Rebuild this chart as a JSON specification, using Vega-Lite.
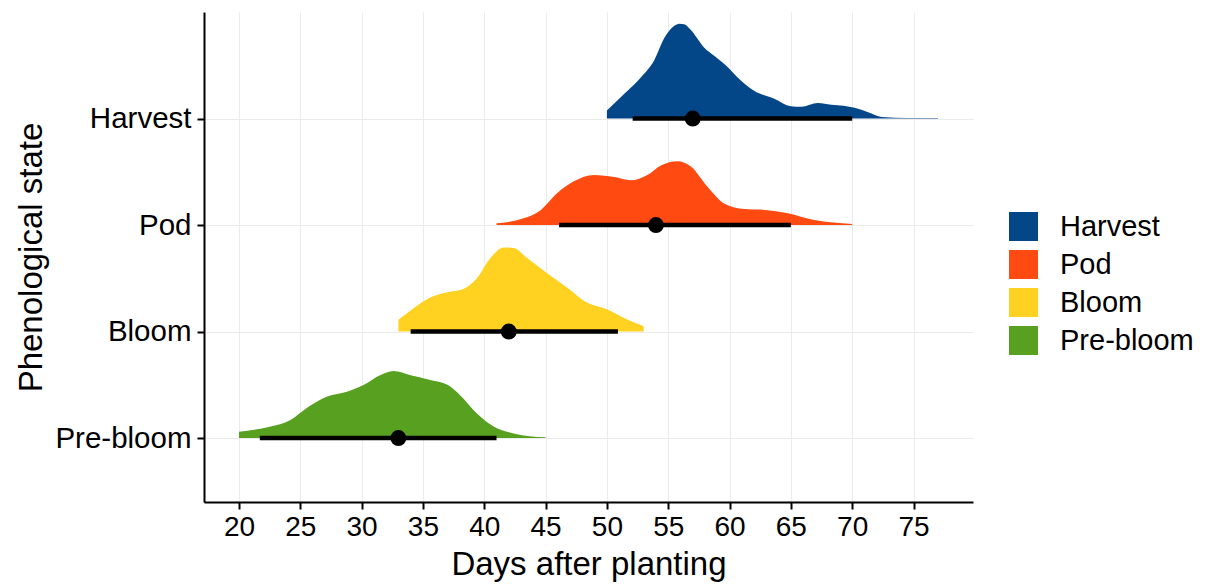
{
  "$schema": "https://vega.github.io/schema/vega-lite/v6.json",
  "width": 769,
  "height": 490,
  "autosize": {"type": "none"},
  "padding": {"left": 204, "top": 12, "right": 234, "bottom": 84},
  "background": "white",
  "config": {
    "view": {"stroke": null},
    "font": "Liberation Sans",
    "axis": {
      "domainColor": "black", "domainWidth": 2, "tickColor": "black", "tickWidth": 2, "tickSize": 7,
      "labelColor": "black", "labelFont": "Liberation Sans", "labelFontSize": 28, "labelPadding": 4,
      "titleFont": "Liberation Sans", "titleFontSize": 33, "titleFontWeight": "normal", "titleColor": "black",
      "gridColor": "#EBEBEB", "gridWidth": 1
    },
    "legend": {"labelFont": "Liberation Sans", "labelFontSize": 29, "labelColor": "black"}
  },
  "datasets": {
    "dens": [
      {"state":"Harvest","day":50.0,"top":4.075,"base":4},
      {"state":"Harvest","day":51.4,"top":4.23,"base":4},
      {"state":"Harvest","day":52.8,"top":4.39,"base":4},
      {"state":"Harvest","day":53.85,"top":4.545,"base":4},
      {"state":"Harvest","day":54.7,"top":4.76,"base":4},
      {"state":"Harvest","day":55.5,"top":4.87,"base":4},
      {"state":"Harvest","day":55.9,"top":4.89,"base":4},
      {"state":"Harvest","day":56.3,"top":4.885,"base":4},
      {"state":"Harvest","day":56.85,"top":4.83,"base":4},
      {"state":"Harvest","day":57.9,"top":4.67,"base":4},
      {"state":"Harvest","day":58.8,"top":4.585,"base":4},
      {"state":"Harvest","day":59.6,"top":4.51,"base":4},
      {"state":"Harvest","day":60.9,"top":4.36,"base":4},
      {"state":"Harvest","day":62.0,"top":4.26,"base":4},
      {"state":"Harvest","day":63.65,"top":4.185,"base":4},
      {"state":"Harvest","day":65.0,"top":4.115,"base":4},
      {"state":"Harvest","day":65.85,"top":4.11,"base":4},
      {"state":"Harvest","day":67.2,"top":4.145,"base":4},
      {"state":"Harvest","day":68.3,"top":4.13,"base":4},
      {"state":"Harvest","day":69.3,"top":4.12,"base":4},
      {"state":"Harvest","day":70.2,"top":4.10,"base":4},
      {"state":"Harvest","day":71.3,"top":4.06,"base":4},
      {"state":"Harvest","day":72.4,"top":4.015,"base":4},
      {"state":"Harvest","day":74.5,"top":4.005,"base":4},
      {"state":"Harvest","day":77.0,"top":4.005,"base":4},
      {"state":"Pod","day":41.0,"top":3.016,"base":3},
      {"state":"Pod","day":43.2,"top":3.063,"base":3},
      {"state":"Pod","day":44.6,"top":3.14,"base":3},
      {"state":"Pod","day":45.95,"top":3.30,"base":3},
      {"state":"Pod","day":47.3,"top":3.41,"base":3},
      {"state":"Pod","day":48.95,"top":3.47,"base":3},
      {"state":"Pod","day":50.6,"top":3.45,"base":3},
      {"state":"Pod","day":51.95,"top":3.42,"base":3},
      {"state":"Pod","day":53.3,"top":3.47,"base":3},
      {"state":"Pod","day":54.4,"top":3.56,"base":3},
      {"state":"Pod","day":55.76,"top":3.60,"base":3},
      {"state":"Pod","day":56.85,"top":3.55,"base":3},
      {"state":"Pod","day":58.2,"top":3.36,"base":3},
      {"state":"Pod","day":59.6,"top":3.20,"base":3},
      {"state":"Pod","day":61.2,"top":3.15,"base":3},
      {"state":"Pod","day":63.1,"top":3.14,"base":3},
      {"state":"Pod","day":64.75,"top":3.11,"base":3},
      {"state":"Pod","day":66.9,"top":3.047,"base":3},
      {"state":"Pod","day":70.0,"top":3.01,"base":3},
      {"state":"Bloom","day":33.0,"top":2.11,"base":2},
      {"state":"Bloom","day":34.24,"top":2.22,"base":2},
      {"state":"Bloom","day":35.6,"top":2.32,"base":2},
      {"state":"Bloom","day":36.97,"top":2.37,"base":2},
      {"state":"Bloom","day":38.3,"top":2.40,"base":2},
      {"state":"Bloom","day":39.4,"top":2.50,"base":2},
      {"state":"Bloom","day":40.5,"top":2.69,"base":2},
      {"state":"Bloom","day":41.6,"top":2.79,"base":2},
      {"state":"Bloom","day":42.4,"top":2.785,"base":2},
      {"state":"Bloom","day":43.5,"top":2.69,"base":2},
      {"state":"Bloom","day":45.1,"top":2.55,"base":2},
      {"state":"Bloom","day":46.8,"top":2.41,"base":2},
      {"state":"Bloom","day":48.4,"top":2.27,"base":2},
      {"state":"Bloom","day":50.0,"top":2.21,"base":2},
      {"state":"Bloom","day":51.7,"top":2.11,"base":2},
      {"state":"Bloom","day":53.0,"top":2.05,"base":2},
      {"state":"Pre-bloom","day":20.0,"top":1.06,"base":1},
      {"state":"Pre-bloom","day":22.5,"top":1.106,"base":1},
      {"state":"Pre-bloom","day":24.2,"top":1.17,"base":1},
      {"state":"Pre-bloom","day":25.5,"top":1.28,"base":1},
      {"state":"Pre-bloom","day":27.2,"top":1.39,"base":1},
      {"state":"Pre-bloom","day":28.8,"top":1.435,"base":1},
      {"state":"Pre-bloom","day":30.2,"top":1.50,"base":1},
      {"state":"Pre-bloom","day":31.5,"top":1.59,"base":1},
      {"state":"Pre-bloom","day":32.6,"top":1.63,"base":1},
      {"state":"Pre-bloom","day":34.0,"top":1.59,"base":1},
      {"state":"Pre-bloom","day":35.6,"top":1.545,"base":1},
      {"state":"Pre-bloom","day":37.0,"top":1.50,"base":1},
      {"state":"Pre-bloom","day":38.05,"top":1.40,"base":1},
      {"state":"Pre-bloom","day":39.4,"top":1.23,"base":1},
      {"state":"Pre-bloom","day":40.8,"top":1.106,"base":1},
      {"state":"Pre-bloom","day":42.4,"top":1.044,"base":1},
      {"state":"Pre-bloom","day":45.0,"top":1.007,"base":1}
    ],
    "summary": [
      {"state":"Harvest","base":4,"lo":52.1,"hi":70.0,"mid":57.0},
      {"state":"Pod","base":3,"lo":46.1,"hi":65.0,"mid":54.0},
      {"state":"Bloom","base":2,"lo":34.0,"hi":50.9,"mid":42.0},
      {"state":"Pre-bloom","base":1,"lo":21.7,"hi":41.0,"mid":33.0}
    ]
  },
  "layer": [
    {
      "data": {"name": "dens"},
      "mark": {"type": "area", "interpolate": "monotone"},
      "encoding": {
        "x": {"field": "day", "type": "quantitative", "scale": {"domain": [17.15, 79.85], "nice": false, "zero": false},
              "axis": {"title": "Days after planting", "values": [20,25,30,35,40,45,50,55,60,65,70,75], "grid": true, "titlePadding": 7}},
        "y": {"field": "top", "type": "quantitative", "scale": {"domain": [0.4, 5.0], "nice": false, "zero": false},
              "axis": {"title": "Phenological state", "values": [1,2,3,4], "grid": true, "titlePadding": 6, "labelPadding": 6, "labelFontSize": 29.5,
                       "labelExpr": "datum.value == 4 ? 'Harvest' : datum.value == 3 ? 'Pod' : datum.value == 2 ? 'Bloom' : 'Pre-bloom'"}},
        "y2": {"field": "base"},
        "color": {"field": "state", "type": "nominal",
                  "scale": {"domain": ["Harvest","Pod","Bloom","Pre-bloom"], "range": ["#034789","#FF4A12","#FFD120","#58A01F"]},
                  "legend": {"title": null, "orient": "none", "legendX": 805, "legendY": 200, "padding": 0,
                             "symbolType": "square", "symbolSize": 841, "symbolStrokeWidth": 0, "symbolOpacity": 1,
                             "labelOffset": 22, "rowPadding": 8}}
      }
    },
    {
      "data": {"name": "summary"},
      "mark": {"type": "rule", "color": "black", "strokeWidth": 4.5},
      "encoding": {
        "x": {"field": "lo", "type": "quantitative"},
        "x2": {"field": "hi"},
        "y": {"field": "base", "type": "quantitative"}
      }
    },
    {
      "data": {"name": "summary"},
      "mark": {"type": "point", "filled": true, "color": "black", "opacity": 1, "size": 254},
      "encoding": {
        "x": {"field": "mid", "type": "quantitative"},
        "y": {"field": "base", "type": "quantitative"}
      }
    }
  ]
}
